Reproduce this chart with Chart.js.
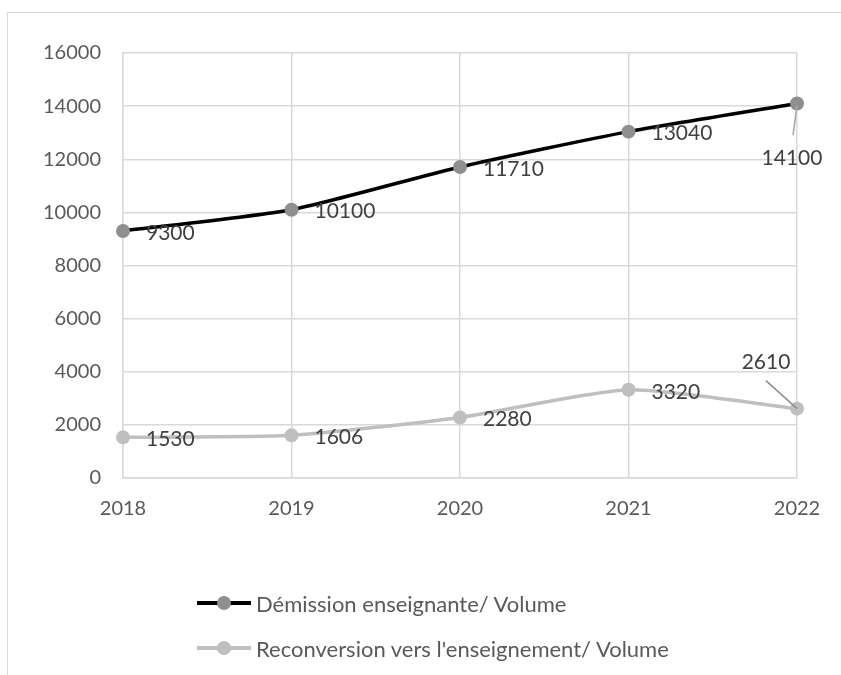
<!DOCTYPE html>
<html>
<head>
<meta charset="utf-8">
<script src="https://cdn.jsdelivr.net/npm/chart.js@4/dist/chart.umd.min.js"></script>
<style>
  html, body { margin: 0; padding: 0; background: #fff; }
  #wrap { position: relative; width: 841px; height: 675px; overflow: hidden; font-family: Lato, "Open Sans", sans-serif; }
  #frame { position: absolute; left: 7px; top: 12px; width: 900px; height: 700px; border: 1px solid #d9d9d9; box-sizing: border-box; }
  #c { position: absolute; left: 0; top: 0; }
  .leg { position: absolute; left: 197px; height: 24px; display: flex; align-items: center; font-size: 22px; color: #595959; white-space: nowrap; }
  .sw { position: relative; width: 54px; height: 14px; margin-right: 5px; }
  .sw .ln { position: absolute; left: 0; right: 0; top: 5px; height: 4px; }
  .sw .dt { position: absolute; left: 20px; top: 0; width: 14px; height: 14px; border-radius: 50%; }
</style>
</head>
<body>
<div id="wrap">
  <div id="frame"></div>
  <canvas id="c" width="841" height="675"></canvas>
  <div id="legend"></div>
</div>
<script>
const years = ["2018", "2019", "2020", "2021", "2022"];
const demissionLabel = "Démission enseignante/ Volume";
const demission = [9300, 10100, 11710, 13040, 14100];
const reconversionLabel = "Reconversion vers l'enseignement/ Volume";
const reconversion = [1530, 1606, 2280, 3320, 2610];
const yTicks = [0, 2000, 4000, 6000, 8000, 10000, 12000, 14000, 16000];

const seriesStyle = [
  { line: "#000000", dot: "#8f8f8f", leader: "#a6a6a6" },
  { line: "#bfbfbf", dot: "#bfbfbf", leader: "#8c8c8c" }
];

// label placement per point (dx, dy relative to the point, alignment, optional leader)
function labelPlacement(ds, i) {
  if (ds === 0 && i === 4) return { dx: -5, dy: 55, align: "center", leader: [[0, 2], [-4, 32]] };
  if (ds === 1 && i === 4) return { dx: -31, dy: -46, align: "center", leader: [[-31, -28], [0, 0]] };
  return { dx: 23, dy: 2, align: "left" };
}

const dataLabels = {
  id: "dataLabels",
  afterDatasetsDraw(chart) {
    const ctx = chart.ctx;
    ctx.save();
    ctx.font = "21px Lato, 'Open Sans', sans-serif";
    ctx.fillStyle = "#404040";
    ctx.textBaseline = "middle";
    chart.data.datasets.forEach((d, di) => {
      const meta = chart.getDatasetMeta(di);
      meta.data.forEach((pt, i) => {
        const p = labelPlacement(di, i);
        if (p.leader) {
          ctx.strokeStyle = seriesStyle[di].leader;
          ctx.lineWidth = 1.5;
          ctx.beginPath();
          ctx.moveTo(pt.x + p.leader[0][0], pt.y + p.leader[0][1]);
          ctx.lineTo(pt.x + p.leader[1][0], pt.y + p.leader[1][1]);
          ctx.stroke();
        }
        ctx.textAlign = p.align;
        ctx.fillText(String(d.data[i]), pt.x + p.dx, pt.y + p.dy);
      });
    });
    ctx.restore();
  }
};

new Chart(document.getElementById("c"), {
  type: "line",
  data: {
    labels: years,
    datasets: [
      { label: demissionLabel, data: demission, borderColor: seriesStyle[0].line, borderWidth: 3.5,
        pointBackgroundColor: seriesStyle[0].dot, pointBorderColor: seriesStyle[0].dot, pointRadius: 7, pointBorderWidth: 0,
        tension: 0.2 },
      { label: reconversionLabel, data: reconversion, borderColor: seriesStyle[1].line, borderWidth: 3.5,
        pointBackgroundColor: seriesStyle[1].dot, pointBorderColor: seriesStyle[1].dot, pointRadius: 7, pointBorderWidth: 0,
        tension: 0.2 }
    ]
  },
  options: {
    responsive: false,
    animation: false,
    layout: { padding: { left: 0, top: 53, right: 44, bottom: 0 } },
    plugins: { legend: { display: false }, tooltip: { enabled: false } },
    scales: {
      x: {
        offset: false,
        grid: { color: "#d9d9d9", lineWidth: 1.5, drawTicks: false },
        border: { color: "#d9d9d9", width: 1.5 },
        ticks: { color: "#595959", font: { family: "Lato", size: 20 }, padding: 19, maxRotation: 0 },
        afterFit(s) { s.height = 675 - 478; }
      },
      y: {
        min: 0, max: 16000,
        grid: { color: "#d9d9d9", lineWidth: 1.5, drawTicks: false },
        border: { color: "#d9d9d9", width: 1.5 },
        afterBuildTicks(s) { s.ticks = yTicks.map(v => ({ value: v })); },
        ticks: { color: "#595959", font: { family: "Lato", size: 20 }, padding: 22, callback: v => String(v) },
        afterFit(s) { s.width = 123; }
      }
    }
  },
  plugins: [dataLabels]
});

// legend
const legendItems = [
  { text: demissionLabel, style: seriesStyle[0], top: 591 },
  { text: reconversionLabel, style: seriesStyle[1], top: 636 }
];
const legend = document.getElementById("legend");
legendItems.forEach(it => {
  const row = document.createElement("div");
  row.className = "leg";
  row.style.top = it.top + "px";
  const sw = document.createElement("div");
  sw.className = "sw";
  const ln = document.createElement("div"); ln.className = "ln"; ln.style.background = it.style.line;
  const dt = document.createElement("div"); dt.className = "dt"; dt.style.background = it.style.dot;
  sw.appendChild(ln); sw.appendChild(dt);
  const tx = document.createElement("span"); tx.textContent = it.text;
  row.appendChild(sw); row.appendChild(tx);
  legend.appendChild(row);
});
</script>
</body>
</html>
